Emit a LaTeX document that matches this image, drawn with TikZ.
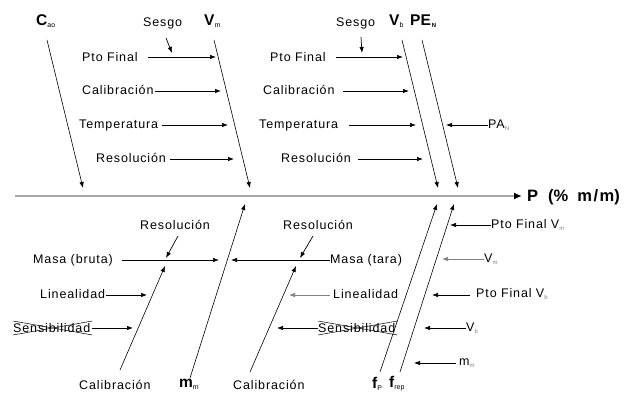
\documentclass[tikz,border=0pt]{standalone}
\usepackage{fontspec}
\setmainfont{Liberation Sans}
\newfontfamily\lblf[LetterSpace=7]{Liberation Sans}
\usetikzlibrary{arrows.meta,calc}
\newcommand{\sbs}[1]{\textsubscript{\fontsize{7}{7}\selectfont\mdseries #1}}
\newcommand{\ssb}[1]{\textsubscript{\fontsize{6}{6}\selectfont #1}}
\begin{document}
\begin{tikzpicture}[x=1pt,y=-1pt,
  lbl/.style={font=\lblf\fontsize{12.5}{13}\selectfont, inner sep=0pt, anchor=west},
  big/.style={font=\fontsize{15.5}{16}\selectfont\bfseries, inner sep=0pt, anchor=west},
  arr/.style={-{Latex[length=6pt,width=4.5pt]}, line width=0.7pt},
  garr/.style={arr, draw=gray},
  bone/.style={-{Latex[length=6pt,width=4.5pt]}, line width=0.6pt},
  cross/.style={line width=0.5pt}]
\useasboundingbox (0,0) rectangle (629,395);
% main axis
\coordinate (ax1) at (15,196);
\coordinate (ax2) at (522,196);
\draw[line width=1.8pt, gray!70, -{Latex[length=8pt,width=7pt,black]}] (ax1) -- (ax2);
\node[big, font=\fontsize{16.5}{17}\selectfont\bfseries] (P) at (527,197) {P\hspace{10pt}(\%\hspace{9pt}m\hspace{1.5pt}/\hspace{1.5pt}m)};

% ---------------- top left ----------------
\node[big] (Cao) at (36,21) {C\sbs{ao}};
\coordinate (c1) at (47,40); \coordinate (c2) at (83,188);
\draw[bone] (c1) -- (c2);
\node[big] (Vm) at (204,21) {V\sbs{m}};
\coordinate (v1) at (214,40); \coordinate (v2) at (250,188);
\draw[bone] (v1) -- (v2);
\node[lbl] (ses1) at (143,23) {Sesgo};
\coordinate (s1a) at (166,38); \coordinate (s1b) at (172,53);
\draw[arr] (s1a) -- (s1b);
\node[lbl] (pf1) at (82,57) {Pto Final};
\coordinate (pf1s) at (148,57); \coordinate (pf1e) at (216,57);
\draw[arr] (pf1s) -- (pf1e);
\node[lbl] (ca1) at (82,90) {Calibración};
\coordinate (ca1s) at (155,91); \coordinate (ca1e) at (221,91);
\draw[arr] (ca1s) -- (ca1e);
\node[lbl] (te1) at (79,125) {Temperatura};
\coordinate (te1s) at (162,125); \coordinate (te1e) at (228,125);
\draw[arr] (te1s) -- (te1e);
\node[lbl] (re1) at (96,158) {Resolución};
\coordinate (re1s) at (170,159); \coordinate (re1e) at (234,159);
\draw[arr] (re1s) -- (re1e);

% ---------------- top right ----------------
\node[lbl] (ses2) at (336,23) {Sesgo};
\coordinate (s2a) at (361,37); \coordinate (s2b) at (362,53);
\draw[arr] (s2a) -- (s2b);
\node[big] (Vb) at (389,21) {V\sbs{b}};
\node[big] (PEN) at (410,21) {PE\ssb{\,N}};
\coordinate (b1) at (402,40); \coordinate (b2) at (438,188);
\draw[bone] (b1) -- (b2);
\coordinate (n1) at (422,40); \coordinate (n2) at (458,188);
\draw[bone] (n1) -- (n2);
\node[lbl] (pf2) at (270,57) {Pto Final};
\coordinate (pf2s) at (336,57); \coordinate (pf2e) at (403,57);
\draw[arr] (pf2s) -- (pf2e);
\node[lbl] (ca2) at (263,90) {Calibración};
\coordinate (ca2s) at (343,91); \coordinate (ca2e) at (409,91);
\draw[arr] (ca2s) -- (ca2e);
\node[lbl] (te2) at (259,125) {Temperatura};
\coordinate (te2s) at (349,125); \coordinate (te2e) at (416,125);
\draw[arr] (te2s) -- (te2e);
\node[lbl] (re2) at (281,158) {Resolución};
\coordinate (re2s) at (358,159); \coordinate (re2e) at (423,159);
\draw[arr] (re2s) -- (re2e);
\node[lbl] (PA) at (488,125) {PA\ssb{\color{gray}N}};
\coordinate (pae) at (446,125);
\draw[arr] (PA.west) -- (pae);

% ---------------- bottom left ----------------
\node[lbl] (re3) at (140,225) {Resolución};
\coordinate (r3a) at (178,236); \coordinate (r3b) at (166,258);
\draw[arr] (r3a) -- (r3b);
\node[lbl] (mb) at (33,260) {Masa (bruta)};
\coordinate (mbs) at (122,260); \coordinate (mbe) at (219,260);
\draw[arr] (mbs) -- (mbe);
\node[lbl] (li1) at (40,294) {Linealidad};
\coordinate (li1s) at (106,295); \coordinate (li1e) at (147,295);
\draw[arr] (li1s) -- (li1e);
\node[lbl] (se1) at (13,328) {Sensibilidad};
\draw[cross] ($(se1.west)+(0,-7)$) -- ($(se1.east)+(2,7)$);
\draw[cross] ($(se1.west)+(0,7)$) -- ($(se1.east)+(2,-7)$);
\coordinate (se1s) at (92,328); \coordinate (se1e) at (133,328);
\draw[arr] (se1s) -- (se1e);
\node[lbl] (cb1) at (79,385) {Calibración};
\coordinate (k1a) at (120,370); \coordinate (k1b) at (165,266);
\draw[bone] (k1a) -- (k1b);
\node[big] (mm) at (179,384) {m\sbs{m}};
\coordinate (m1a) at (190,378); \coordinate (m1b) at (245,204);
\draw[bone] (m1a) -- (m1b);

% ---------------- bottom middle ----------------
\node[lbl] (re4) at (283,225) {Resolución};
\coordinate (r4a) at (313,236); \coordinate (r4b) at (300,258);
\draw[arr] (r4a) -- (r4b);
\node[lbl] (mt) at (330,260) {Masa (tara)};
\coordinate (mte) at (231,260);
\draw[arr] (mt.west) -- (mte);
\node[lbl] (li2) at (333,294) {Linealidad};
\coordinate (li2s) at (330,295); \coordinate (li2e) at (289,295);
\draw[garr] (li2s) -- (li2e);
\node[lbl] (se2) at (318,328) {Sensibilidad};
\draw[cross] ($(se2.west)+(0,-7)$) -- ($(se2.east)+(2,7)$);
\draw[cross] ($(se2.west)+(0,7)$) -- ($(se2.east)+(2,-7)$);
\coordinate (se2e) at (277,328);
\draw[arr] (se2.west) -- (se2e);
\node[lbl] (cb2) at (233,385) {Calibración};
\coordinate (k2a) at (250,372); \coordinate (k2b) at (296,266);
\draw[bone] (k2a) -- (k2b);

% ---------------- bottom right ----------------
\node[big] (fP) at (372,384) {f\sbs{P}};
\node[big] (frep) at (389,384) {f\sbs{rep}};
\coordinate (f1a) at (380,372); \coordinate (f1b) at (437,204);
\draw[bone] (f1a) -- (f1b);
\coordinate (f2a) at (400,372); \coordinate (f2b) at (454,204);
\draw[bone] (f2a) -- (f2b);
\node[lbl] (pfvm) at (491,225) {Pto Final V\ssb{\color{gray}m}};
\coordinate (pfvme) at (450,225);
\draw[arr] (pfvm.west) -- (pfvme);
\node[lbl] (vm2) at (484,259) {V\ssb{\color{gray}m}};
\coordinate (vm2e) at (442,259);
\draw[garr] (vm2.west) -- (vm2e);
\node[lbl] (pfvb) at (476,294) {Pto Final V\ssb{\color{gray}b}};
\coordinate (pfvbs) at (470,295); \coordinate (pfvbe) at (432,295);
\draw[arr] (pfvbs) -- (pfvbe);
\node[lbl] (vb2) at (466,328) {V\ssb{\color{gray}b}};
\coordinate (vb2e) at (424,328);
\draw[arr] (vb2.west) -- (vb2e);
\node[lbl] (mm2) at (459,363) {m\ssb{\color{gray}m}};
\coordinate (mm2s) at (456,363); \coordinate (mm2e) at (414,363);
\draw[arr] (mm2s) -- (mm2e);
\end{tikzpicture}
\end{document}
